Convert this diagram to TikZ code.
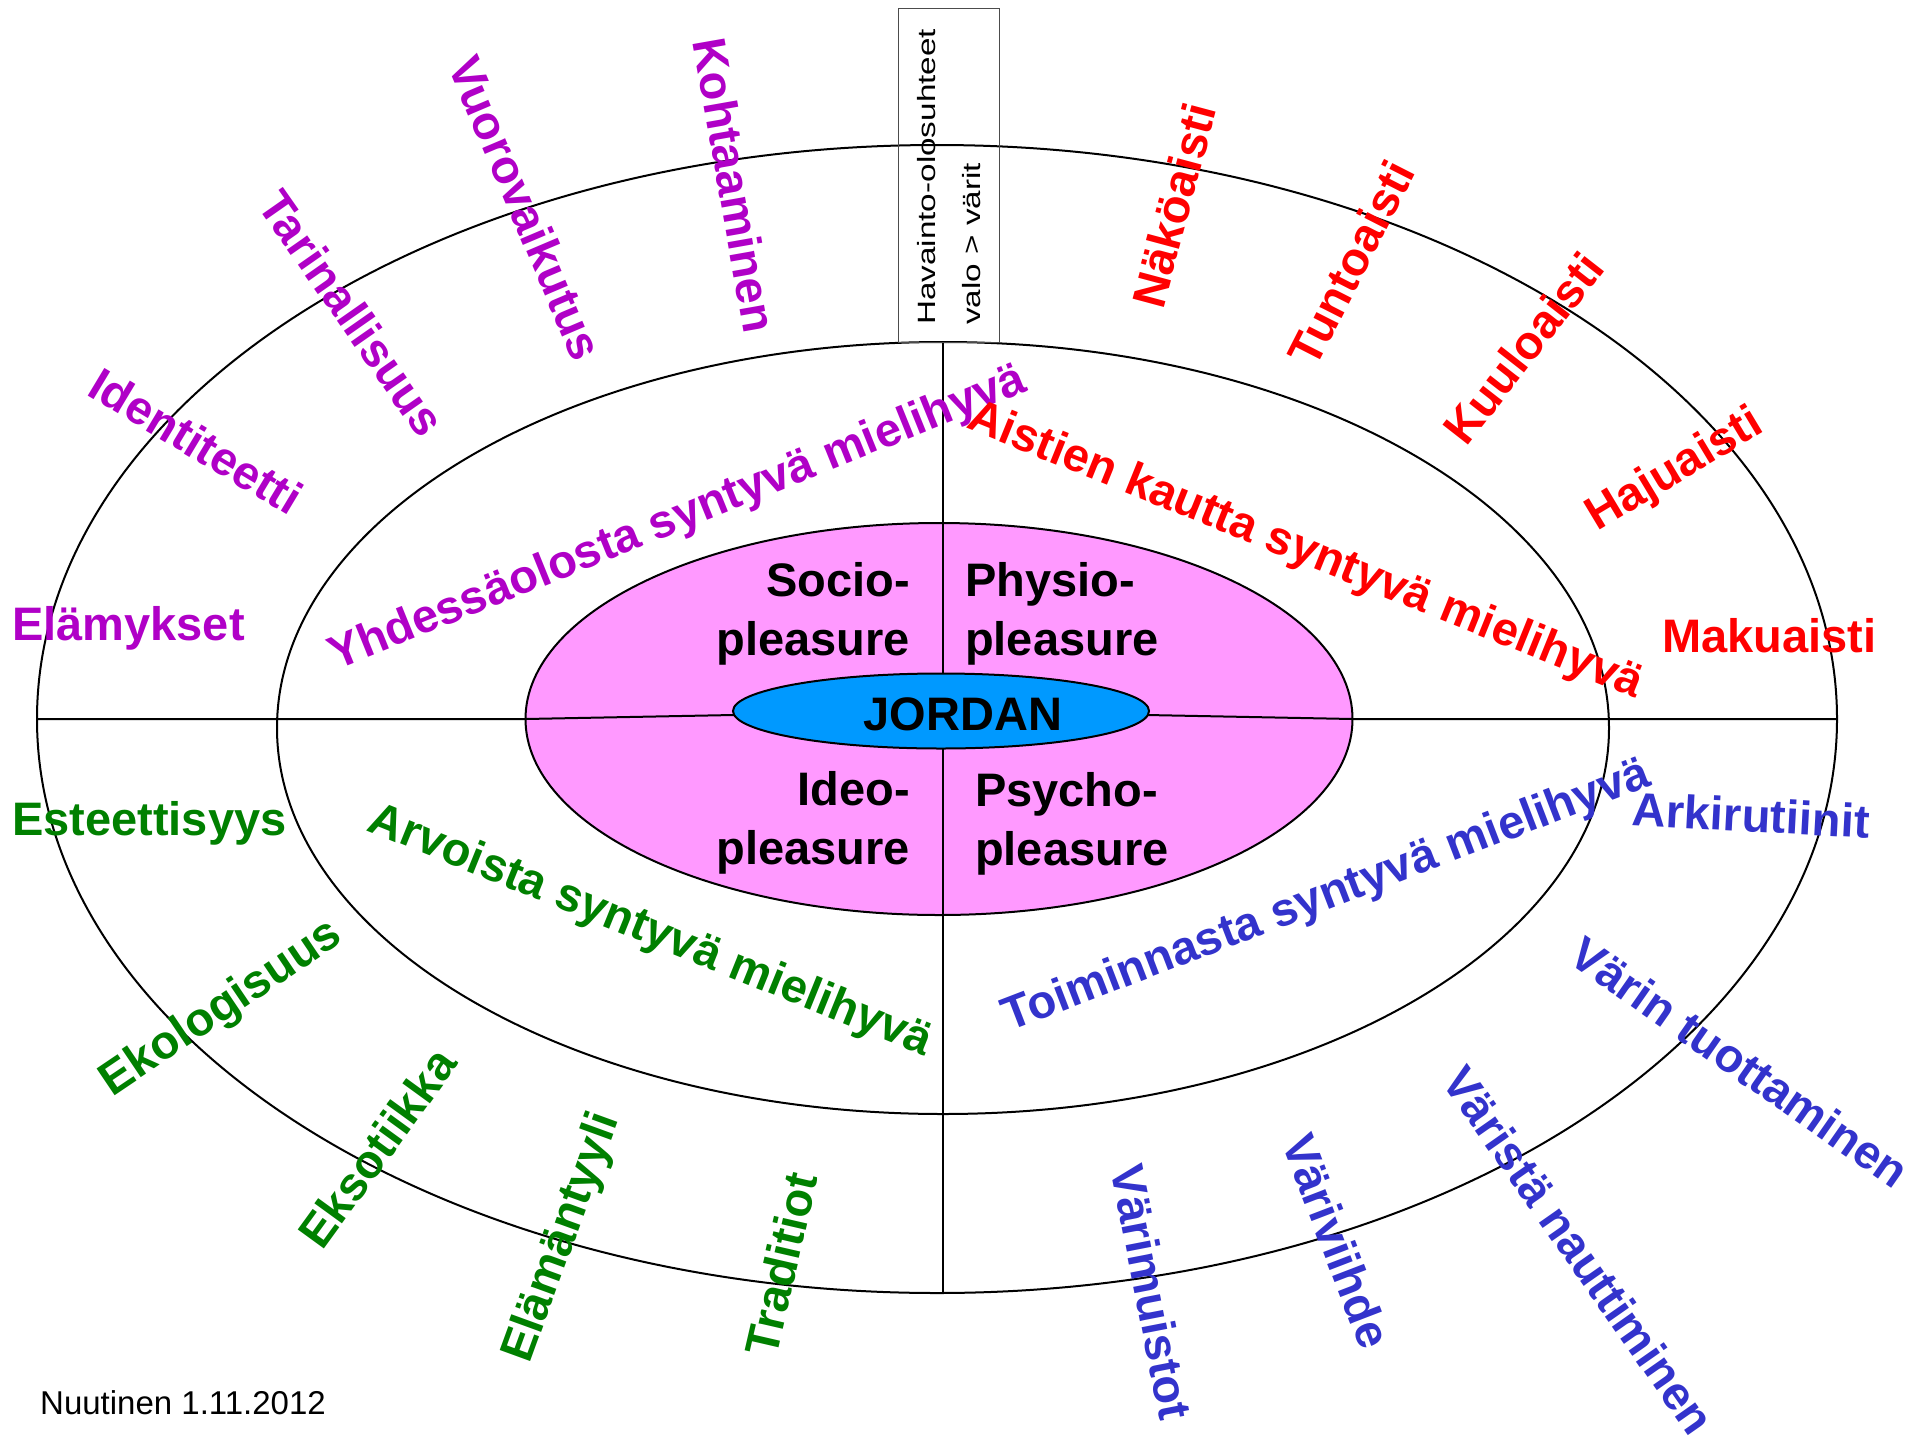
\documentclass[tikz,border=0pt]{standalone}
\usepackage{fontspec}
\setmainfont{Liberation Sans}
\usetikzlibrary{shapes.geometric}

\begin{document}
\begin{tikzpicture}[x=1pt,y=-1pt,
  ring/.style={ellipse,draw=black,line width=2pt,inner sep=0pt,outer sep=0pt},
  lab/.style={font=\fontsize{47}{59}\selectfont\bfseries,inner sep=0pt},
  socio/.style={lab,text=col_socio},
  physio/.style={lab,text=col_physio},
  ideo/.style={lab,text=col_ideo},
  psycho/.style={lab,text=col_psycho},
  quad/.style={lab,text=black},
  divider/.style={draw=black,line width=2pt}]
%
\definecolor{col_socio}{rgb}{0.69,0.0,0.78}
\definecolor{col_physio}{rgb}{1.0,0.0,0.0}
\definecolor{col_ideo}{rgb}{0.0,0.5,0.0}
\definecolor{col_psycho}{rgb}{0.2,0.2,0.8}
\definecolor{col_pink}{rgb}{1.0,0.6,1.0}
\definecolor{col_jordan}{rgb}{0.0,0.6,1.0}
\definecolor{col_box}{rgb}{0.3,0.3,0.3}
%
\path[fill=white,use as bounding box] (0,0) rectangle (1932,1440);
%
\node[ring,minimum width=1800pt,minimum height=1148pt] (outer) at (937,719) {};
\node[ring,minimum width=1332pt,minimum height=772pt] (mid) at (943,728) {};
\node[ring,fill=col_pink,minimum width=827pt,minimum height=392pt] (pink) at (939,719) {};
%
\draw[divider] (outer.west) -- (pink.west) -- (941,711);
\draw[divider] (941,711) -- (pink.east) -- (outer.east);
%
\node[ring,fill=col_jordan,minimum width=416pt,minimum height=75pt] (jordan) at (941,711) {};
%
\draw[divider] (mid.north) -- (mid.north |- jordan.north);
\draw[divider] (mid.north |- jordan.south) -- (mid.north |- outer.south);
%
\node[draw=col_box,line width=1pt,minimum width=101pt,minimum height=334pt,inner sep=0pt] (havbox) at (948.5,175) {};
\node[rotate=90,xscale=1.33,anchor=north west,align=left,inner sep=0pt,
  font=\fontsize{25}{45}\selectfont] (havtxt) at (917,325) {Havainto-olosuhteet\\valo > värit};
%
\node[quad] (jordantxt) at (963,714.5) {JORDAN};
\node[quad,anchor=north east,align=right] (q0) at (910,562) {Socio-\\pleasure};
\node[quad,anchor=north west,align=left] (q1) at (965,562) {Physio-\\pleasure};
\node[quad,anchor=north east,align=right] (q2) at (910,771) {Ideo-\\pleasure};
\node[quad,anchor=north west,align=left] (q3) at (975,772) {Psycho-\\pleasure};
%
\node[socio,rotate=22] (so0) at (678,519) {Yhdessäolosta syntyvä mielihyvä};
\node[socio,anchor=base west] (so1) at (12,640) {Elämykset};
\node[socio,rotate=-31] (so2) at (196,441) {Identiteetti};
\node[socio,rotate=-55] (so3) at (352,313) {Tarinallisuus};
\node[socio,rotate=-67] (so4) at (526,208) {Vuorovaikutus};
\node[socio,rotate=-80] (so5) at (735,185) {Kohtaaminen};
%
\node[physio,rotate=-22] (ph0) at (1305,552) {Aistien kautta syntyvä mielihyvä};
\node[physio,rotate=75] (ph1) at (1174,205) {Näköaisti};
\node[physio,rotate=63] (ph2) at (1351,263) {Tuntoaisti};
\node[physio,rotate=52] (ph3) at (1523,348) {Kuuloaisti};
\node[physio,rotate=31] (ph4) at (1675,471) {Hajuaisti};
\node[physio,anchor=base west] (ph5) at (1662,652) {Makuaisti};
%
\node[ideo,rotate=-22] (id0) at (650,932) {Arvoista syntyvä mielihyvä};
\node[ideo,anchor=base west] (id1) at (12,835) {Esteettisyys};
\node[ideo,rotate=34] (id2) at (222,1009) {Ekologisuus};
\node[ideo,rotate=54] (id3) at (377,1148) {Eksotiikka};
\node[ideo,rotate=70] (id4) at (563,1238) {Elämäntyyli};
\node[ideo,rotate=77] (id5) at (781,1264) {Traditiot};
%
\node[psycho,rotate=21] (ps0) at (1327,897) {Toiminnasta syntyvä mielihyvä};
\node[psycho,rotate=-3] (ps1) at (1751,815) {Arkirutiinit};
\begin{scope}
\clip (0,0) rectangle (1905,1440);
\node[psycho,rotate=-35] (ps2) at (1740,1062) {Värin tuottaminen};
\end{scope}
\node[psycho,rotate=-55] (ps3) at (1579,1250) {Väristä nauttiminen};
\node[psycho,rotate=-69] (ps4) at (1337,1241) {Väriviihde};
\node[psycho,rotate=-79] (ps5) at (1152,1292) {Värimuistot};
%
\node[anchor=base west,inner sep=0pt,font=\fontsize{33}{40}\selectfont] (stamp) at (40,1414) {Nuutinen 1.11.2012};
%
\end{tikzpicture}
\end{document}
